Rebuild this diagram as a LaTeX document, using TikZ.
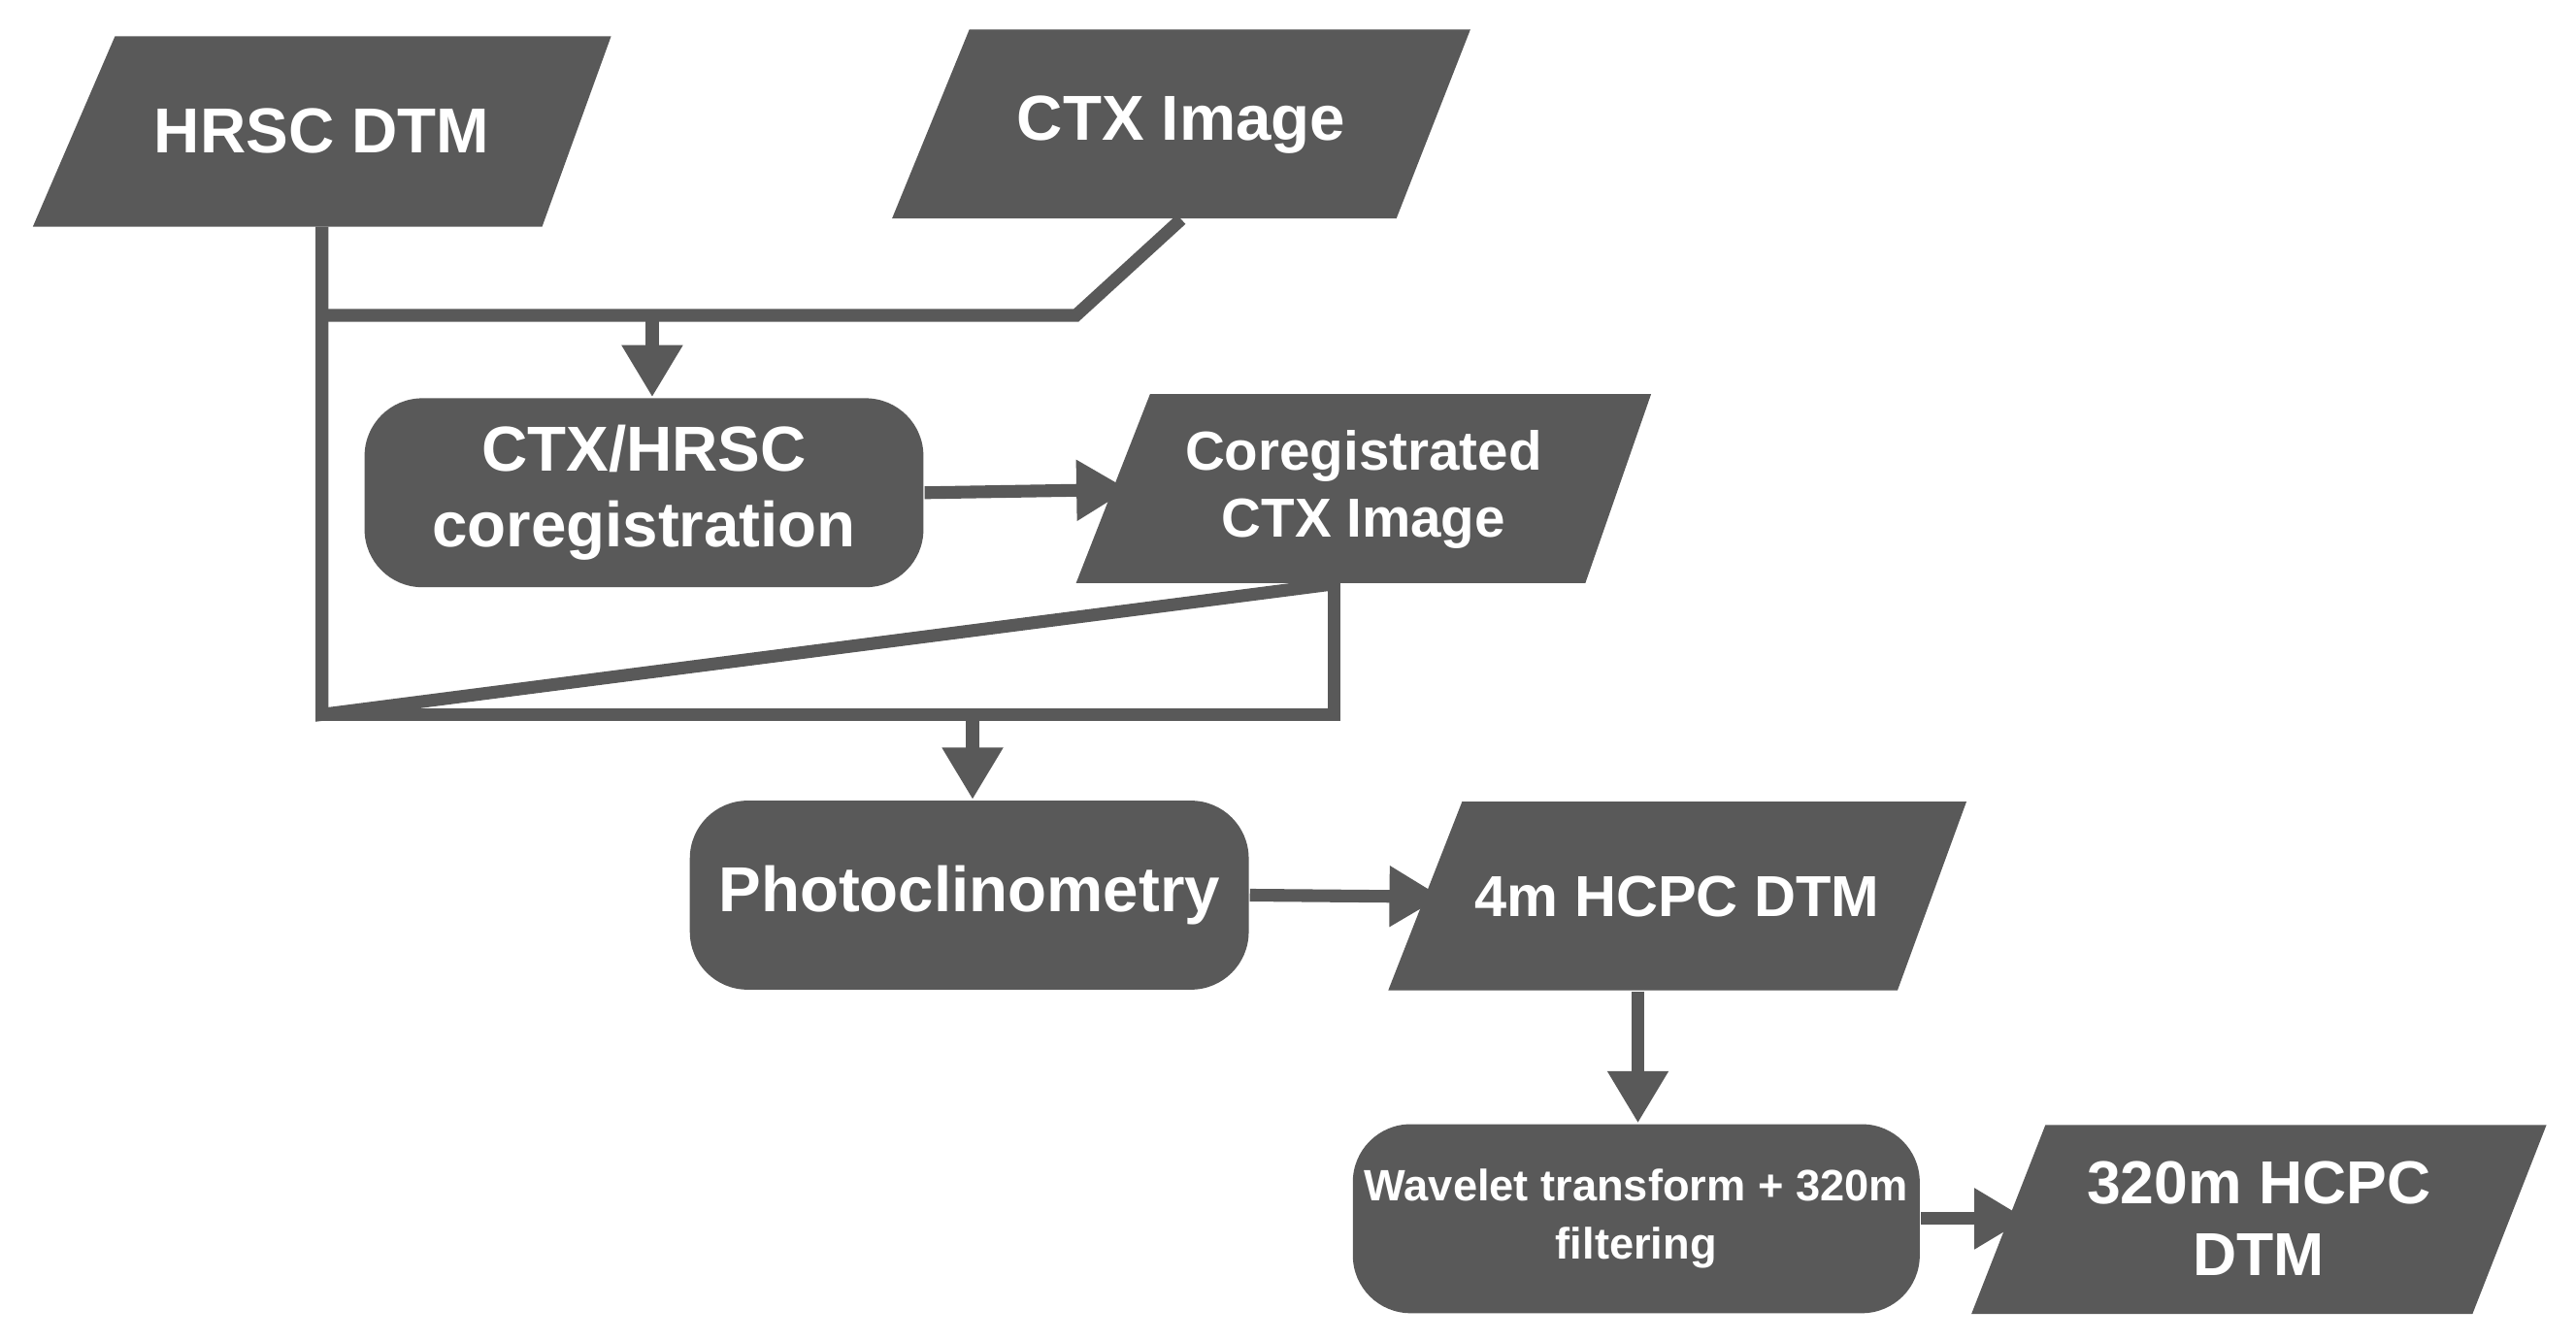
\documentclass[tikz,border=0pt]{standalone}
\usepackage{fontspec}
\setmainfont{Liberation Sans}
\usetikzlibrary{arrows.meta}
\definecolor{boxgray}{HTML}{595959}
\begin{document}
\begin{tikzpicture}[x=0.01cm,y=-0.01cm,
  lbl/.style={inner sep=0pt,outer sep=0pt,text=white,font=\bfseries,align=center},
  proc/.style={fill=boxgray,rounded corners=10pt,minimum width=3.4cm,minimum height=1.15cm,text=white,font=\bfseries,align=center,inner sep=2pt},
  io/.style={fill=boxgray},
  conn/.style={draw=boxgray,line width=2.2pt},
  arr/.style={conn,-{Triangle[length=9pt,width=10pt]}}]
\useasboundingbox (0,0) rectangle (1568,817);
% parallelograms
\fill[io] (70,22) -- (372,22) -- (330,138) -- (20,138) -- cycle;
\node[lbl,font=\bfseries\fontsize{11}{13}\selectfont,minimum width=2.9cm,minimum height=1.16cm] (hrsc) at (196,80) {HRSC DTM};
\fill[io] (590,18) -- (895,18) -- (850,133) -- (543,133) -- cycle;
\node[lbl,font=\bfseries\fontsize{11}{13}\selectfont,minimum width=2.8cm,minimum height=1.15cm] (ctx) at (719,76) {CTX Image};
\fill[io] (700,240) -- (1005,240) -- (965,355) -- (655,355) -- cycle;
\node[lbl,font=\bfseries\fontsize{9.5}{11.5}\selectfont,minimum width=2.86cm,minimum height=1.15cm] (cctx) at (830,298) {Coregistrated\\CTX Image};
\fill[io] (890,488) -- (1197,488) -- (1155,603) -- (845,603) -- cycle;
\node[lbl,font=\bfseries\fontsize{10}{12}\selectfont,minimum width=2.87cm,minimum height=1.15cm] (hc4) at (1021,546) {4m HCPC DTM};
\fill[io] (1245,685) -- (1550,685) -- (1505,800) -- (1200,800) -- cycle;
\node[lbl,font=\bfseries\fontsize{10.5}{12.5}\selectfont,minimum width=2.83cm,minimum height=1.15cm] (hc320) at (1375,742) {320m HCPC\\DTM};
% processes
\node[proc,font=\bfseries\fontsize{11}{13}\selectfont] (coreg) at (392,300) {CTX/HRSC\\coregistration};
\node[proc,font=\bfseries\fontsize{11}{13}\selectfont] (photo) at (590,545) {Photoclinometry};
\node[proc,font=\bfseries\fontsize{7.6}{10}\selectfont] (wave) at (996,742) {Wavelet transform + 320m\\filtering};
% connectors
\coordinate (j1) at (397,192);
\coordinate (j2) at (592,435);
\draw[conn] (hrsc.south) -- (196,435) -- (cctx.south -| 812,0) ;
\draw[conn] (812,355) -- (812,435) -- (196,435);
\draw[conn] (ctx.south) -- (655,192) -- (196,192);
\draw[arr] (j1) -- (coreg.north -| j1);
\draw[arr] (coreg.east) -- (cctx.west);
\draw[arr] (j2) -- (photo.north -| j2);
\draw[arr] (photo.east) -- (hc4.west);
\draw[arr] (hc4.south -| 997,0) ++(0,0) -- (wave.north -| 997,0);
\draw[arr] (wave.east) -- (hc320.west);
\end{tikzpicture}
\end{document}
